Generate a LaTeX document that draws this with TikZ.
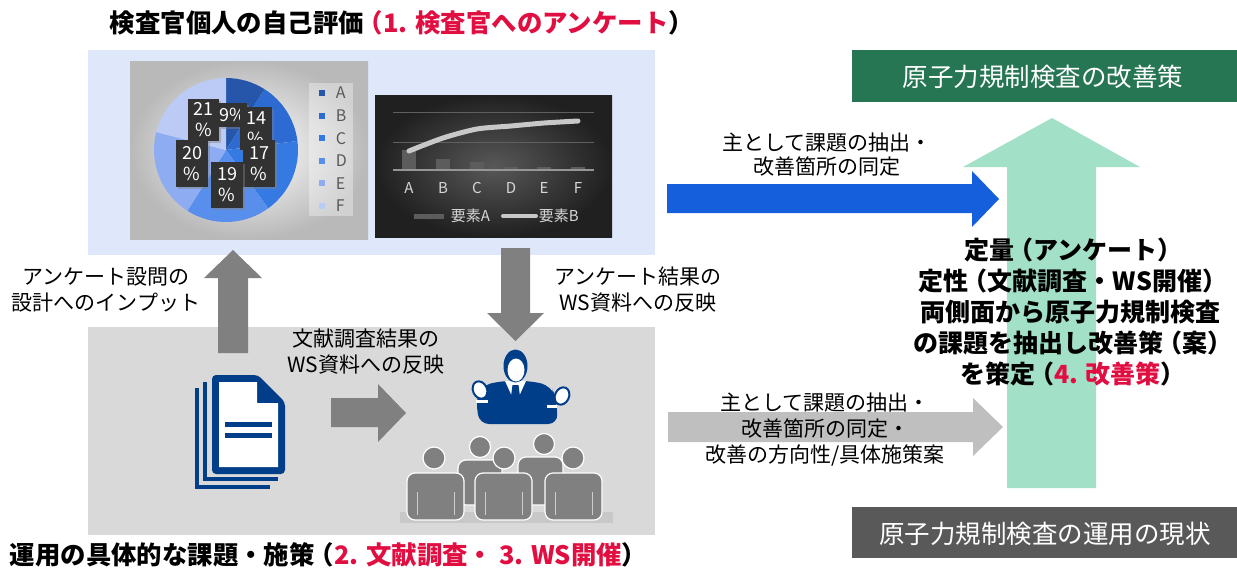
\documentclass[tikz,border=0pt]{standalone}
\usepackage{fontspec}
\setmainfont{Noto Sans CJK JP}
\usetikzlibrary{shadows}

\definecolor{wsblue}{RGB}{0,62,138}
\definecolor{accentred}{RGB}{225,15,65}
\definecolor{pieA}{RGB}{37,86,170}
\definecolor{pieB}{RGB}{45,106,210}
\definecolor{pieC}{RGB}{52,122,226}
\definecolor{pieD}{RGB}{88,142,236}
\definecolor{pieE}{RGB}{142,172,241}
\definecolor{pieF}{RGB}{187,203,246}

% tighter full-width brackets
\newcommand\jlp{\kern-3pt（}
\newcommand\jrp{）\kern-3pt}

\begin{document}
\begin{tikzpicture}[x=0.5pt,y=0.5pt,yscale=-1,xscale=1,
  txt/.style={inner sep=0.75pt, align=center, font=\fontsize{10.5}{13}\selectfont},
  ttl/.style={inner sep=0.75pt, anchor=west, font=\bfseries\fontsize{12.7}{15}\selectfont},
  boxtxt/.style={inner sep=0.75pt, text=white, font=\fontsize{12.75}{15}\selectfont},
  blockgray/.style={fill={rgb, 255:red, 128; green, 128; blue, 128}},
  pctbox/.style={fill={rgb, 255:red, 50; green, 50; blue, 50}, text=white, align=center, inner sep=0pt,
    font=\fontsize{9}{10.5}\selectfont, drop shadow={opacity=0.45, shadow xshift=1pt, shadow yshift=-1pt}},
  axislbl/.style={inner sep=0.75pt, text={rgb, 255:red, 215; green, 215; blue, 215}, font=\fontsize{7.5}{9}\selectfont},
  person/.style={fill={rgb, 255:red, 128; green, 128; blue, 128}, draw=white, line width=0.6pt},
  armline/.style={draw={rgb, 255:red, 205; green, 205; blue, 205}, line width=0.5pt}]

\useasboundingbox (0,0) rectangle (1237,573);

% panels
\fill[fill={rgb, 255:red, 223; green, 232; blue, 250}] (88,50) rectangle (655,255);
\fill[fill={rgb, 255:red, 217; green, 217; blue, 217}] (88,327) rectangle (655,535);

% pie chart
\fill[shading=radial, inner color=white, outer color={rgb, 255:red, 185; green, 185; blue, 185}] (130,61) rectangle (368,239);
\begin{scope}[shift={(226,150)}, yscale=-1]
\foreach \s/\e/\c in {90/57.6/pieA, 57.6/7.2/pieB, 7.2/-54/pieC, -54/-122.4/pieD, -122.4/-194.4/pieE, -194.4/-270/pieF}
  \fill[\c] (0,0) -- (\s:72) arc[start angle=\s, end angle=\e, radius=72] -- cycle;
\end{scope}
\node[pctbox, minimum width=15.5pt, minimum height=21pt] (p21) at (203.5,120) {21\\\%};
\node[pctbox, minimum width=14pt, minimum height=12pt] (p09) at (233,115) {9\%};
\node[pctbox, minimum width=16pt, minimum height=21.5pt] (p14) at (256,128.5) {14\\\%};
\node[pctbox, minimum width=16pt, minimum height=23.5pt] (p20) at (192,163.5) {20\\\%};
\node[pctbox, minimum width=16pt, minimum height=23.5pt] (p17) at (259,163.5) {17\\\%};
\node[pctbox, minimum width=16pt, minimum height=23pt] (p19) at (227,185) {19\\\%};
% legend
\fill[white, opacity=0.35] (309,83) rectangle (353,216);
\foreach \c/\l [count=\i] in {pieA/A, pieB/B, pieC/C, pieD/D, pieE/E, pieF/F} {
  \fill[\c] (319,{67.4+\i*22.6}) rectangle (325,{73.4+\i*22.6});
  \draw (334,{70.4+\i*22.6}) node[anchor=west, inner sep=0.75pt, text={rgb, 255:red, 89; green, 89; blue, 89}, font=\fontsize{8}{9}\selectfont] (leg\l) {\l};
}

% bar chart
\fill[shading=radial, inner color={rgb, 255:red, 88; green, 88; blue, 88}, outer color={rgb, 255:red, 32; green, 32; blue, 32}] (375,95) rectangle (612,237);
\draw[draw={rgb, 255:red, 95; green, 95; blue, 95}, line width=0.5pt] (393,112) -- (594,112) (393,142) -- (594,142);
\foreach \x/\t in {409/150, 443/159, 477/162, 511/167, 544/167, 578/167}
  \fill[fill={rgb, 255:red, 92; green, 92; blue, 92}] (\x-7,\t) rectangle (\x+7,170);
\draw[draw={rgb, 255:red, 150; green, 150; blue, 150}, line width=0.75pt] (393,170) -- (594,170);
\draw[draw={rgb, 255:red, 200; green, 200; blue, 200}, line width=2.5pt, line cap=round] plot[smooth, tension=0.45] coordinates {(409,151) (443,138) (477,129) (511,126) (544,123) (578,121)};
\foreach \x/\l in {409/A, 443/B, 477/C, 511/D, 544/E, 578/F}
  \draw (\x,188) node[axislbl] (ax\l) {\l};
\draw[draw={rgb, 255:red, 92; green, 92; blue, 92}, line width=2.5pt] (414,216) -- (444,216);
\draw (449,216) node[axislbl, anchor=west] (serA) {要素A};
\draw[draw={rgb, 255:red, 200; green, 200; blue, 200}, line width=2pt, line cap=round] (503,216) -- (536,216);
\draw (537,216) node[axislbl, anchor=west] (serB) {要素B};

% block arrows
\fill[blockgray] (218,353) -- (218,278) -- (204,278) -- (233,250) -- (262,278) -- (248,278) -- (248,353) -- cycle;
\fill[blockgray] (501,248) -- (530,248) -- (530,313) -- (544,313) -- (515.5,341) -- (487,313) -- (501,313) -- cycle;
\fill[blockgray] (331,398) -- (378,398) -- (378,384) -- (406,413) -- (378,442) -- (378,427) -- (331,427) -- cycle;
\fill[fill={rgb, 255:red, 163; green, 224; blue, 200}] (1007,488) -- (1007,167) -- (963,167) -- (1052,118) -- (1140,167) -- (1096,167) -- (1096,488) -- cycle;
\fill[fill={rgb, 255:red, 21; green, 94; blue, 220}] (667,184) -- (972,184) -- (972,171) -- (999,199) -- (972,227) -- (972,213) -- (667,213) -- cycle;
\fill[fill={rgb, 255:red, 191; green, 191; blue, 191}] (668,412) -- (973,412) -- (973,398) -- (1003,427) -- (973,456) -- (973,442) -- (668,442) -- cycle;

% document stack
\draw[wsblue, line width=2pt] (197,388) -- (197,487) -- (270,487);
\draw[wsblue, line width=2pt] (205,382) -- (205,479) -- (278,479);
\fill[wsblue, rounded corners=2] (212,375) -- (258,375) -- (285,402) -- (285,474) -- (212,474) -- cycle;
\fill[white] (219,382) -- (257,382) -- (257,403) -- (278,403) -- (278,467) -- (219,467) -- cycle;
\fill[wsblue] (225,422) rectangle (272,426.5);
\fill[wsblue] (225,433) rectangle (272,437.5);

% presenter
\fill[wsblue, rounded corners=5] (479,424) -- (476,398) -- (481,386) -- (500,381) -- (532,381) -- (551,386) -- (556,398) -- (558,424) -- cycle;
\fill[white] (505,381) -- (526,381) -- (515.5,404) -- cycle;
\fill[wsblue] (512.5,385) -- (518.5,385) -- (520.5,400) -- (515.5,406) -- (510.5,400) -- cycle;
\fill[wsblue] (515.5,366) ellipse [x radius=12, y radius=16.5];
\fill[white] (516,370) ellipse [x radius=8.5, y radius=11.5];
\filldraw[fill=white, draw=wsblue, line width=1pt, rotate around={-25:(480,390)}] (480,390) ellipse [x radius=7, y radius=9];
\filldraw[fill=white, draw=wsblue, line width=1pt, rotate around={25:(562,396)}] (562,396) ellipse [x radius=7, y radius=9];
\fill[white] (476,400) rectangle (488,403);
\fill[white] (547,405) rectangle (557,408);

% audience
\fill[fill={rgb, 255:red, 200; green, 200; blue, 200}] (400,512) rectangle (613,523);
\filldraw[person, rounded corners=4] (458,460) rectangle (502,505);
\filldraw[person, rounded corners=4] (518,457) rectangle (563,505);
\filldraw[person] (480,447) circle [radius=10.5];
\filldraw[person] (544,444) circle [radius=10.5];
\foreach \bx in {407,475,545} {
  \filldraw[person, rounded corners=4] (\bx,473) rectangle (\bx+57,520);
  \draw[armline] (\bx+10,492) -- (\bx+10,515) (\bx+47,492) -- (\bx+47,515);
}
\filldraw[person] (434,458) circle [radius=11];
\filldraw[person] (504,458) circle [radius=11];
\filldraw[person] (573,458) circle [radius=11];

% green and gray header boxes
\fill[fill={rgb, 255:red, 38; green, 117; blue, 83}] (852,50) rectangle (1237,102);
\draw (1043,77) node[boxtxt] (improve) {原子力規制検査の改善策};
\fill[fill={rgb, 255:red, 89; green, 89; blue, 89}] (852,507) rectangle (1237,558);
\draw (1045,534) node[boxtxt] (current) {原子力規制検査の運用の現状};

% texts
\draw (108,23) node[ttl] (surveyttl) {検査官個人の自己評価{\color{accentred}\jlp 1. 検査官へのアンケート}\jrp};
\draw (8,555) node[ttl] (opsttl) {運用の具体的な課題・施策\jlp{\color{accentred}2. 文献調査・ 3. WS開催}\jrp};
\draw (106,290) node[txt] (inputtxt) {アンケート設問の\\設計へのインプット};
\draw (638,290) node[txt] (resulttxt) {アンケート結果の\\WS資料への反映};
\draw (366,352) node[txt] (littxt) {文献調査結果の\\WS資料への反映};
\draw (827,155) node[txt, font=\fontsize{10.5}{12}\selectfont] (bluetxt) {主として課題の抽出・\\改善箇所の同定};
\draw (825,430) node[txt] (graytxt) {主として課題の抽出・\\改善箇所の同定・\\改善の方向性/具体施策案};
\draw (1070,312) node[txt, font=\bfseries\fontsize{12.5}{15.5}\selectfont] (summary) {定量\jlp アンケート\jrp\\定性\jlp 文献調査・WS開催\jrp\\両側面から原子力規制検査\\の課題を抽出し改善策\jlp 案\jrp\\を策定\jlp{\color{accentred}4. 改善策}\jrp};

\end{tikzpicture}
\end{document}
